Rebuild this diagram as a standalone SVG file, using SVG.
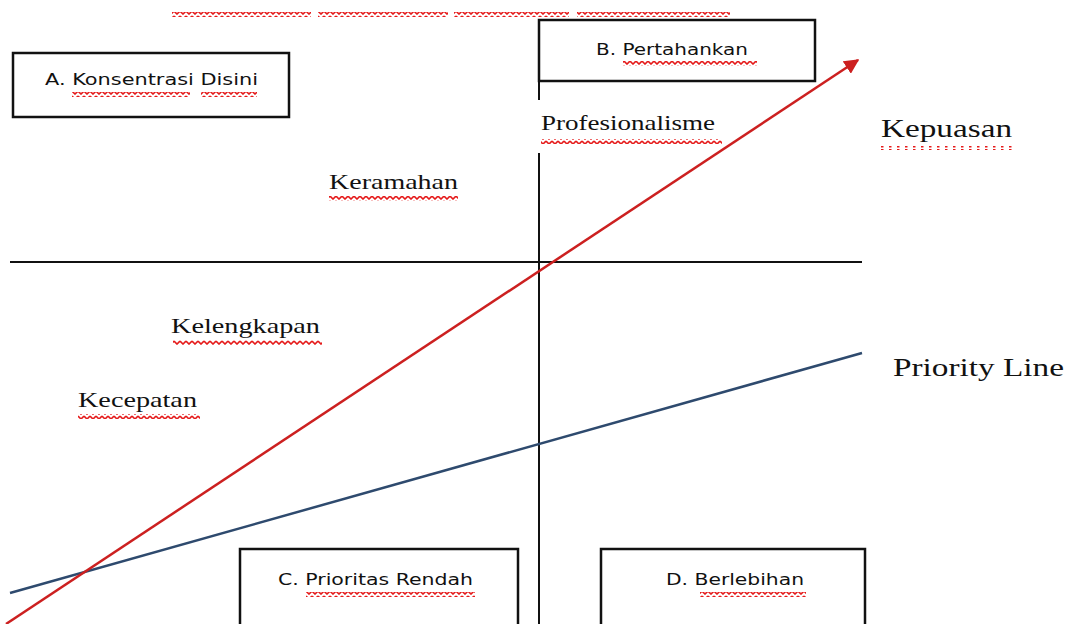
<svg xmlns="http://www.w3.org/2000/svg" width="1070" height="624" viewBox="0 0 1070 624">
<style>
.box{fill:#fff;stroke:#111;stroke-width:2.5}
.ax{stroke:#111;stroke-width:2;fill:none}
.lb{font-family:"DejaVu Sans","Liberation Sans",sans-serif;font-size:16px;fill:#111}
.sf{font-family:"Liberation Serif","DejaVu Serif",serif;font-size:21px;fill:#111}
.big{font-size:25px}
.sq{fill:url(#sq)}
.dot{fill:url(#dot)}
</style>
<defs>
<pattern id="sq" x="0" y="0" width="6" height="5" patternUnits="userSpaceOnUse">
<polyline points="0,1 3,4 6,1" fill="none" stroke="#e51b1b" stroke-width="1.6"/>
</pattern>
<pattern id="dot" x="0" y="0" width="8" height="4" patternUnits="userSpaceOnUse">
<rect x="1" y="1" width="2.5" height="2.5" fill="#e51b1b"/>
</pattern>
<marker id="arr" viewBox="0 0 10 10" refX="9" refY="5" markerWidth="6" markerHeight="6" orient="auto" markerUnits="strokeWidth">
<path d="M0,0 L10,5 L0,10 z" fill="#cc2020"/>
</marker>
</defs>
<rect width="1070" height="624" fill="#fff"/>
<g id="top-squiggle">
<rect class="sq" x="172" y="12" width="139" height="5"/>
<rect class="sq" x="318" y="12" width="130" height="5"/>
<rect class="sq" x="454" y="12" width="115" height="5"/>
<rect class="sq" x="577" y="12" width="153" height="5"/>
</g>
<g id="connectors">
<line class="ax" x1="10" y1="262" x2="862" y2="262"/>
<line class="ax" x1="539" y1="80" x2="539" y2="100"/>
<line class="ax" x1="539" y1="153" x2="539" y2="624"/>
<line x1="10" y1="593" x2="862" y2="353" stroke="#2e4a6e" stroke-width="2.5"/>
<line x1="6" y1="624" x2="858" y2="60" stroke="#cc2020" stroke-width="2.5" marker-end="url(#arr)"/>
</g>
<g id="nodeA">
<rect class="box" x="13" y="53" width="276" height="64"/>
<text class="lb" x="45" y="85" textLength="213" lengthAdjust="spacingAndGlyphs">A. Konsentrasi Disini</text>
<rect class="sq" x="72" y="92" width="118" height="5"/>
<rect class="sq" x="201" y="92" width="56" height="5"/>
</g>
<g id="nodeB">
<rect class="box" x="539" y="20" width="276" height="61"/>
<text class="lb" x="596" y="55" textLength="152" lengthAdjust="spacingAndGlyphs">B. Pertahankan</text>
<rect class="sq" x="623" y="61" width="134" height="5"/>
</g>
<g id="nodeC">
<rect class="box" x="240" y="549" width="278" height="80"/>
<text class="lb" x="278" y="585" textLength="195" lengthAdjust="spacingAndGlyphs">C. Prioritas Rendah</text>
<rect class="sq" x="306" y="592" width="169" height="5"/>
</g>
<g id="nodeD">
<rect class="box" x="601" y="549" width="264" height="80"/>
<text class="lb" x="666" y="585" textLength="138" lengthAdjust="spacingAndGlyphs">D. Berlebihan</text>
<rect class="sq" x="700" y="592" width="106" height="5"/>
</g>
<g id="profesionalisme">
<text class="sf" x="541" y="130" textLength="174" lengthAdjust="spacingAndGlyphs">Profesionalisme</text>
<rect class="sq" x="541" y="139" width="181" height="5"/>
</g>
<g id="kepuasan">
<text class="sf big" x="881" y="137" textLength="131" lengthAdjust="spacingAndGlyphs">Kepuasan</text>
<rect class="dot" x="880" y="146" width="136" height="4"/>
</g>
<g id="keramahan">
<text class="sf" x="329" y="189" textLength="129" lengthAdjust="spacingAndGlyphs">Keramahan</text>
<rect class="sq" x="329" y="196" width="129" height="5"/>
</g>
<g id="kelengkapan">
<text class="sf" x="171" y="333" textLength="149" lengthAdjust="spacingAndGlyphs">Kelengkapan</text>
<rect class="sq" x="173" y="340" width="149" height="5"/>
</g>
<g id="kecepatan">
<text class="sf" x="78" y="407" textLength="119" lengthAdjust="spacingAndGlyphs">Kecepatan</text>
<rect class="sq" x="78" y="414" width="122" height="5"/>
</g>
<g id="priority">
<text class="sf big" x="893" y="376" textLength="171" lengthAdjust="spacingAndGlyphs">Priority Line</text>
</g>
</svg>
